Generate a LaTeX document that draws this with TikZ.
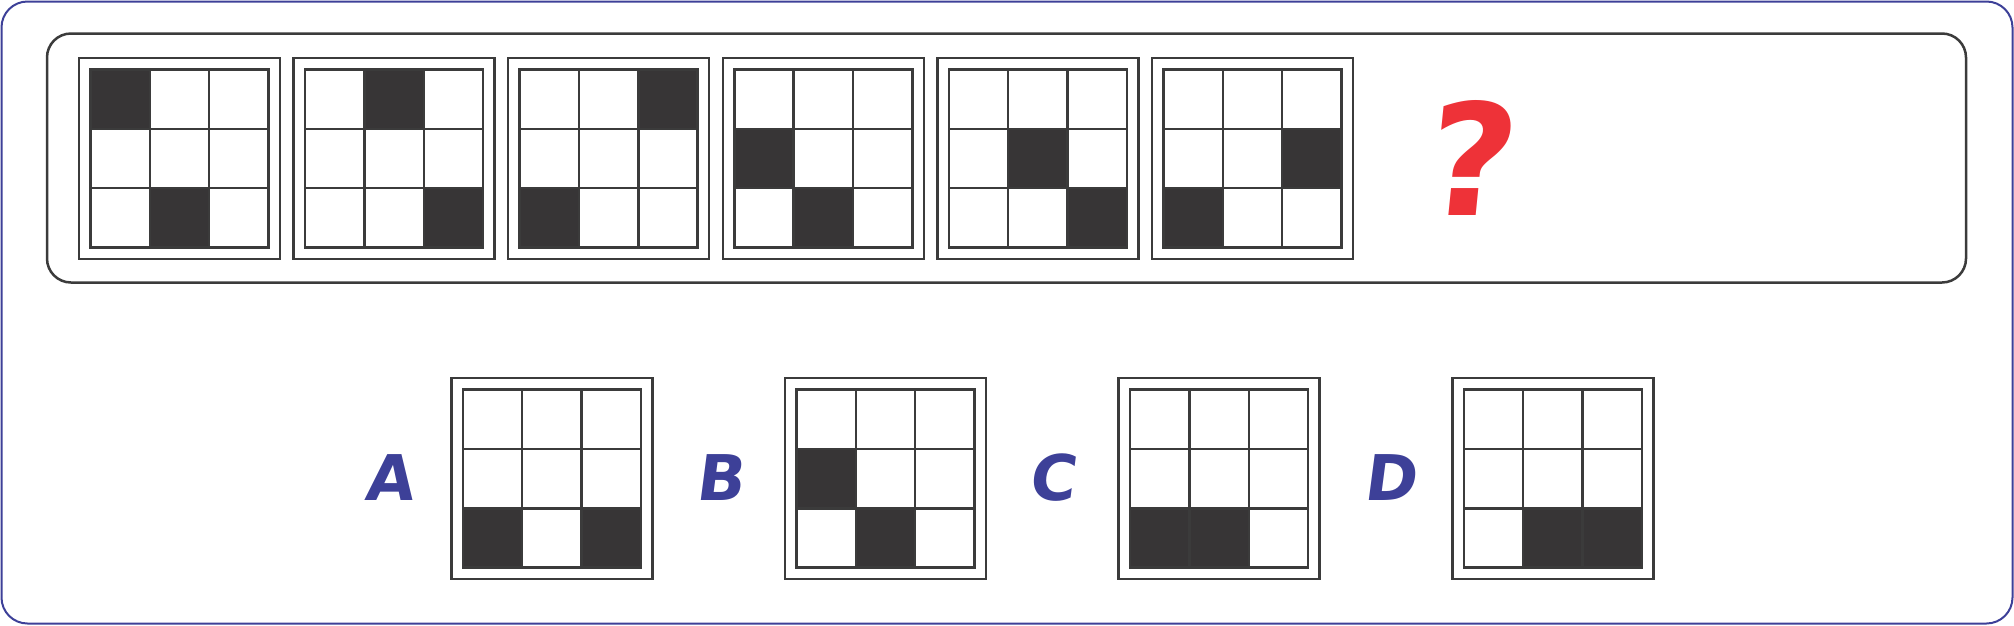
\documentclass[tikz,border=0pt]{standalone}
\usepackage{fontspec}
\newfontfamily\lblfont{DejaVu Sans}
\definecolor{navy}{HTML}{3D4098}
\definecolor{qred}{HTML}{EE3238}
\definecolor{ink}{HTML}{373536}
\definecolor{rule}{HTML}{3B3B3B}
\newcommand{\mtx}[4]{%
  \node[frame] (#1) at (#2,#3) {};
  \begin{scope}[shift={(#1.center)}]
    \foreach \c/\r in {#4}
      \fill[ink] (-89+\c*59.33-59.33,-89+\r*59.33-59.33) rectangle ++(59.33,59.33);
    \foreach \k in {0,...,3} {
      \draw[cellrule] (-89+\k*59.33,-89) -- ++(0,178);
      \draw[cellrule] (-89,-89+\k*59.33) -- ++(178,0);
    }
  \end{scope}
}
\begin{document}
\begin{tikzpicture}[x=1pt,y=-1pt,
    frame/.style={draw=rule, line width=2.5, minimum size=201, inner sep=0},
    cellrule/.style={draw=rule, line width=2.5, line cap=rect},
    choice/.style={text=navy, font=\lblfont\fontsize{63}{63}\selectfont\bfseries, xslant=0.13, anchor=base, inner sep=0}
    ]
    \useasboundingbox (0,0) rectangle (2014,625);
    \draw[navy, line width=2, rounded corners=26] (1.5,1.5) rectangle (2012.5,623.5);
    \draw[rule, line width=2.5, rounded corners=24] (47,33.5) rectangle (1966,282.5);
    \mtx{s1}{179.5}{158.5}{1/1,2/3}
    \mtx{s2}{394.1}{158.5}{2/1,3/3}
    \mtx{s3}{608.7}{158.5}{3/1,1/3}
    \mtx{s4}{823.3}{158.5}{1/2,2/3}
    \mtx{s5}{1037.9}{158.5}{2/2,3/3}
    \mtx{s6}{1252.5}{158.5}{3/2,1/3}
    \node[text=qred, font=\lblfont\fontsize{155}{155}\selectfont\bfseries, xslant=0.1, anchor=base, inner sep=0] (ask) at (1467,215) {?};
    \mtx{optA}{551.8}{478.7}{1/3,3/3}
    \mtx{optB}{885.5}{478.7}{1/2,2/3}
    \mtx{optC}{1219.2}{478.7}{1/3,2/3}
    \mtx{optD}{1552.9}{478.7}{2/3,3/3}
    \node[choice] (labA) at (389,500.5) {A};
    \node[choice] (labB) at (720,500.5) {B};
    \node[choice] (labC) at (1052,500.5) {C};
    \node[choice] (labD) at (1390,500.5) {D};
  \end{tikzpicture}
\end{document}
